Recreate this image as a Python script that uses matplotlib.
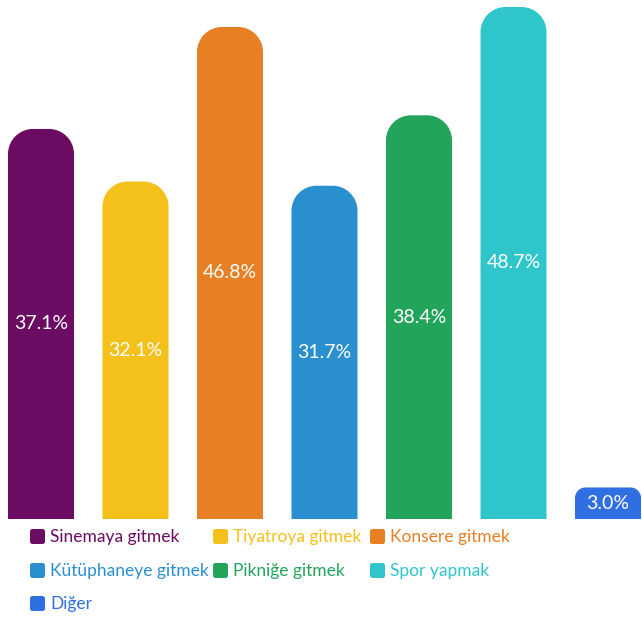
import matplotlib.pyplot as plt
from matplotlib.path import Path
from matplotlib.patches import PathPatch, FancyBboxPatch

categories = ["Sinemaya gitmek", "Tiyatroya gitmek", "Konsere gitmek",
              "Kütüphaneye gitmek", "Pikniğe gitmek", "Spor yapmak", "Diğer"]
values = [37.1, 32.1, 46.8, 31.7, 38.4, 48.7, 3.0]
colors = ["#6c0b62", "#f4c01a", "#e77f24", "#2a8fcf", "#23a45b", "#2ec6cb", "#2f6fe2"]

plt.rcParams['font.family'] = ['Lato', 'DejaVu Sans']

W, H = 642, 619
fig = plt.figure(figsize=(W / 100, H / 100), dpi=100)
ax = fig.add_axes([0, (H - 519) / H, 1, 512 / H])
xmin, xmax = -41 / 94.5, (642 - 41) / 94.5
ymax = max(values)
ax.set_xlim(xmin, xmax)
ax.set_ylim(0, ymax)
ax.axis('off')

px_x = W / (xmax - xmin)      # pixels per x unit
px_y = 512 / ymax             # pixels per y unit
width = 66 / px_x
k = 0.5523


def rounded_bar(xc, h, r_px):
    rx = r_px / px_x
    ry = r_px / px_y
    x0, x1 = xc - width / 2, xc + width / 2
    verts = [(x0, 0), (x0, h - ry),
             (x0, h - ry + k * ry), (x0 + rx - k * rx, h), (x0 + rx, h),
             (x1 - rx, h),
             (x1 - rx + k * rx, h), (x1, h - ry + k * ry), (x1, h - ry),
             (x1, 0), (x0, 0)]
    codes = [Path.MOVETO, Path.LINETO,
             Path.CURVE4, Path.CURVE4, Path.CURVE4,
             Path.LINETO,
             Path.CURVE4, Path.CURVE4, Path.CURVE4,
             Path.LINETO, Path.CLOSEPOLY]
    return Path(verts, codes)


for i, (v, c) in enumerate(zip(values, colors)):
    r = min(25, v * px_y / 3)
    ax.add_patch(PathPatch(rounded_bar(i, v, r), facecolor=c, edgecolor='none'))
    ax.text(i, v / 2, f"{v:.1f}%", color='white', fontsize=14,
            ha='center', va='center')

# legend
col_x = [30, 213, 370]
row_y = [537, 571, 604]
for i, (lab, c) in enumerate(zip(categories, colors)):
    cx = col_x[i % 3]
    cy = row_y[i // 3]
    fig.patches.append(FancyBboxPatch(
        (cx / W, (H - cy - 7) / H), 15 / W, 15 / H,
        boxstyle="round,pad=0,rounding_size=0.004",
        transform=fig.transFigure, facecolor=c, edgecolor='none'))
    fig.text((cx + 20) / W, (H - cy) / H, lab, color=c, fontsize=12.5,
             ha='left', va='center')

fig.savefig('out.png', dpi=100)
